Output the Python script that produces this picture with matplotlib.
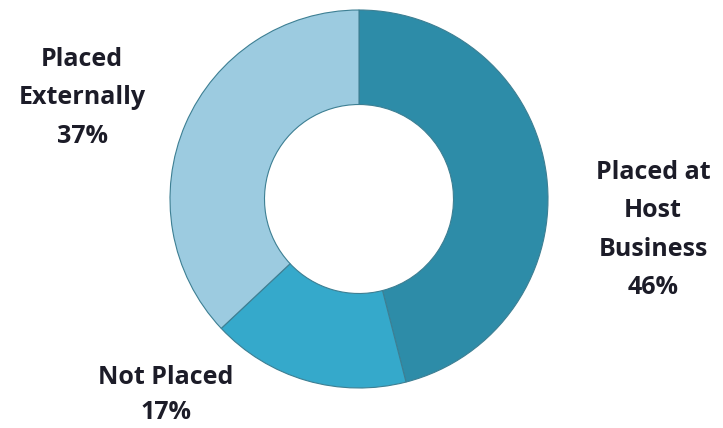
import matplotlib.pyplot as plt

labels = ["Placed at\nHost\nBusiness", "Not Placed", "Placed\nExternally"]
shares = [46, 17, 37]
colors = ["#2d8ca8", "#35a9cb", "#9ccbe0"]

fig = plt.figure(figsize=(7.23, 4.28), dpi=100)
ax = fig.add_axes([170 / 723, 40 / 428, 378 / 723, 378 / 428])

ax.pie(shares, colors=colors, startangle=90, counterclock=False,
       wedgeprops=dict(width=0.5, edgecolor="#3d7f93", linewidth=0.8))
ax.set_xlim(-1, 1)
ax.set_ylim(-1, 1)
ax.set_aspect("equal")
ax.axis("off")

text_kw = dict(ha="center", va="center", fontsize=18, fontweight="bold",
               family=["Open Sans", "DejaVu Sans"], color="#1c1c28")
label_pos = [(653, 230), (166, 395), (82, 98)]
spacing = [1.7, 1.55, 1.7]
for lab, val, (px, py), ls in zip(labels, shares, label_pos, spacing):
    fig.text(px / 723, 1 - py / 428, f"{lab}\n{val}%", linespacing=ls, **text_kw)

fig.savefig("out.png", dpi=100)
